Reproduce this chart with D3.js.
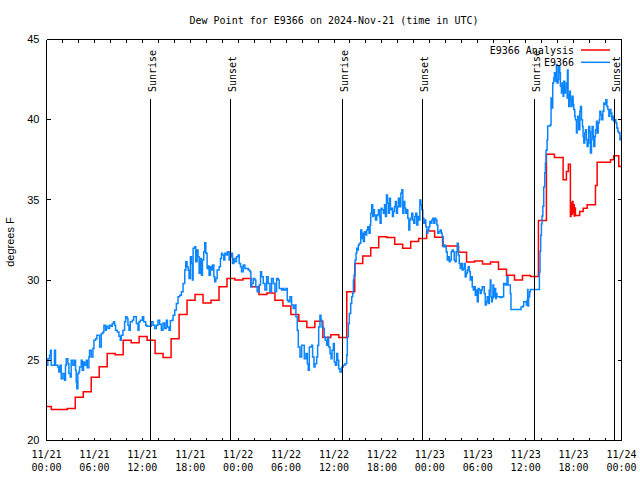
<!DOCTYPE html>
<html><head><meta charset="utf-8">
<script src="https://cdn.jsdelivr.net/npm/d3@7"></script>
<style>body{margin:0;background:#fff}</style>
</head><body><svg id="c" width="640" height="480"></svg>
<script>
// ---------------- data ----------------
const startUTC = Date.UTC(2024, 10, 21, 0, 0);
const spanHours = 72;
const yTicks = [20, 25, 30, 35, 40, 45];
const titleText = "Dew Point for E9366 on 2024-Nov-21 (time in UTC)";
const yLabel = "degrees F";
const seriesNames = ["E9366 Analysis", "E9366"];
const seriesColors = ["#ff0000", "#0a84ff"];

// hourly analysis values (valid from HH-1:36 to HH:36)
const analysisHourly = [22.12,21.94,21.94,22.0,22.69,23.04,23.94,24.6,25.42,25.35,26.25,26.1,26.48,26.25,25.42,25.17,26.35,27.86,28.75,29.1,28.58,28.75,29.58,30.1,30.0,30.1,29.58,29.1,29.2,28.75,28.38,27.86,27.44,27.04,27.44,26.42,26.6,26.42,29.27,31.04,31.5,32.02,32.71,32.65,32.23,31.98,32.4,32.6,33.06,32.67,32.13,32.13,31.73,31.13,31.19,31.0,31.13,30.67,30.31,30.0,30.29,30.23,33.71,37.85,37.65];
// sub-hourly analysis at the end [hour, value]
const analysisTail = [[64.69,36.25],[65.10,36.77],[65.35,37.23],[65.60,33.96],[65.68,34.8],[65.76,34.1],[65.84,34.9],[65.92,34.2],[66.0,34.7],[66.08,34.0],[66.15,34.5],[66.23,34.02],[66.77,34.27],[67.20,34.48],[67.70,34.69],[68.74,35.9],[68.95,37.35],[70.62,37.5],[71.03,37.75],[71.66,37.08],[72.0,37.08]];

// observations [hour since 11/21 00:00, dew point F]
const obsDay1 = [[0.00,24.69],[0.17,25.10],[0.38,25.31],[0.50,25.63],[0.59,24.69],[0.79,24.69],[1.00,25.63],[1.13,24.69],[1.42,24.58],[1.55,24.27],[1.71,24.69],[1.84,23.85],[2.05,24.17],[2.26,23.75],[2.38,24.69],[2.47,25.10],[2.68,24.79],[2.80,24.17],[2.97,23.96],[3.09,25.00],[3.30,24.69],[3.51,25.00],[3.64,24.38],[3.72,23.65],[3.80,23.23],[3.93,24.17],[4.06,24.27],[4.14,24.58],[4.35,25.00],[4.47,24.38],[4.64,24.90],[4.77,24.69],[4.98,25.00],[5.10,24.54],[5.31,25.21],[5.39,25.63],[5.60,25.21],[5.81,25.73],[5.94,26.25],[6.15,26.35],[6.31,26.56],[6.56,26.56],[6.65,25.83],[6.86,26.67],[7.07,26.77],[7.19,27.19],[7.40,26.88],[7.48,27.13],[7.69,26.98],[7.90,27.19],[8.11,27.13],[8.24,27.29],[8.40,27.40],[8.53,27.19],[8.65,26.88],[8.86,26.77],[9.07,26.50],[9.24,26.25],[9.36,26.56],[9.57,26.88],[9.78,27.40],[9.91,27.71],[10.08,27.60],[10.20,27.19],[10.33,26.88],[10.49,27.40],[10.74,27.50],[10.91,27.71],[11.16,27.71],[11.25,27.29],[11.46,26.88],[11.58,27.40],[11.75,27.50],[12.00,27.71],[12.17,27.40],[12.42,27.19],[12.58,27.13],[12.92,27.13],[13.13,27.40],[13.34,27.19],[13.55,26.98],[13.76,27.19],[13.96,27.50],[14.17,27.25],[14.38,26.88],[14.59,27.33],[14.80,26.98],[15.01,27.50],[15.14,27.08],[15.34,26.88],[15.51,27.46],[15.68,27.50],[15.85,27.81],[16.06,28.13],[16.26,28.54],[16.47,28.96],[16.68,29.06],[16.89,29.27],[17.10,29.79],[17.31,30.63],[17.44,31.15],[17.60,30.83],[17.73,30.63],[17.85,30.10],[18.02,31.46],[18.15,31.04],[18.27,30.00],[18.36,31.98],[18.56,32.08],[18.69,31.15],[18.86,31.88],[18.98,31.46],[19.11,30.42],[19.28,31.35],[19.40,30.31],[19.53,31.25],[19.69,31.77],[19.82,32.33],[19.95,31.67],[20.11,30.73],[20.24,30.88],[20.36,30.31],[20.53,30.83],[20.66,30.63],[20.78,30.94],[20.95,30.21],[21.07,29.90],[21.20,30.10],[21.37,30.63],[21.62,30.83],[21.78,31.35],[21.91,31.67],[22.04,31.56],[22.20,31.25],[22.33,31.67],[22.54,31.56],[22.66,31.77],[22.87,31.25],[22.95,31.46],[23.16,31.67],[23.29,31.04],[23.46,31.35],[23.58,31.15],[23.79,31.46]];
const obsDay2 = [[24.00,31.56],[24.13,31.04],[24.29,30.83],[24.42,30.52],[24.63,30.94],[24.84,30.73],[25.05,30.73],[25.26,30.63],[25.47,30.52],[25.59,29.58],[25.71,29.79],[25.88,30.10],[26.09,30.00],[26.21,29.58],[26.38,29.27],[26.63,29.69],[26.80,30.52],[26.93,30.21],[27.14,29.79],[27.35,29.38],[27.56,30.21],[27.76,29.79],[27.97,29.27],[28.18,30.10],[28.39,29.79],[28.60,29.27],[28.81,30.10],[29.02,30.00],[29.14,29.48],[29.31,29.48],[29.44,29.38],[29.56,29.48],[29.73,29.38],[29.98,29.48],[30.15,28.75],[30.27,28.65],[30.48,28.96],[30.69,28.44],[30.89,28.23],[31.10,28.44],[31.23,27.71],[31.40,26.88],[31.53,25.83],[31.74,25.21],[31.95,25.94],[32.15,25.94],[32.28,25.10],[32.49,25.42],[32.66,24.79],[32.78,24.38],[32.91,25.83],[33.07,25.83],[33.20,25.94],[33.32,25.21],[33.49,24.58],[33.62,24.79],[33.83,25.21],[33.95,25.94],[34.08,27.08],[34.24,27.81],[34.37,27.50],[34.50,27.08],[34.67,26.98],[34.79,26.46],[34.91,26.25],[35.08,25.94],[35.21,26.46],[35.33,25.83],[35.50,25.42],[35.63,25.10],[35.75,25.63],[35.92,26.04],[36.04,24.90],[36.17,24.69],[36.34,25.42],[36.46,25.00],[36.59,24.48],[36.75,24.27],[36.96,24.58],[37.17,24.69],[37.38,24.79],[37.59,25.31],[37.67,26.46],[37.80,27.29],[37.92,27.92],[38.09,28.54],[38.22,28.96],[38.34,29.17],[38.43,30.00],[38.51,30.31],[38.64,31.25],[38.76,31.67],[38.85,31.98],[38.93,31.88],[39.05,32.19],[39.18,32.29],[39.35,33.13],[39.47,32.60],[39.60,32.92],[39.68,32.40],[39.81,33.02],[39.93,32.81],[40.10,33.13],[40.23,33.33],[40.39,32.92],[40.52,33.44],[40.60,34.17],[40.73,34.69],[40.85,33.96],[40.94,34.38],[41.06,34.06],[41.19,33.75],[41.35,34.06],[41.56,34.38],[41.69,33.96],[41.77,33.54],[41.90,34.48],[42.02,34.38],[42.19,34.17],[42.32,34.69],[42.44,33.96],[42.57,35.31],[42.69,34.79],[42.82,34.17],[42.94,35.10],[43.07,34.38],[43.19,34.48],[43.32,33.96],[43.44,34.27],[43.57,34.58],[43.69,34.90],[43.82,34.17],[43.95,34.58],[44.07,35.10],[44.20,34.58],[44.37,35.42],[44.49,35.63],[44.62,34.17],[44.74,34.90],[44.87,34.48],[44.99,34.17],[45.12,34.38],[45.24,33.85],[45.37,33.13],[45.49,33.75],[45.62,33.85],[45.74,34.17],[45.87,33.75],[45.99,33.54],[46.12,33.96],[46.24,34.17],[46.37,33.44],[46.50,33.96],[46.62,33.75],[46.75,35.00],[46.87,34.69],[47.00,34.38],[47.12,33.85],[47.25,33.54],[47.37,33.75],[47.50,33.33],[47.63,32.92],[47.75,33.13],[47.88,33.33]];
const obsDay3 = [[48.00,33.65],[48.13,33.54],[48.25,33.75],[48.38,33.85],[48.50,33.54],[48.63,33.85],[48.75,33.75],[48.88,33.44],[49.00,32.92],[49.13,33.02],[49.30,33.13],[49.43,32.92],[49.55,32.71],[49.68,32.08],[49.80,32.19],[49.93,32.08],[50.05,31.77],[50.18,31.25],[50.30,31.46],[50.43,31.15],[50.55,31.25],[50.68,31.77],[50.80,31.88],[50.93,31.77],[51.05,31.25],[51.18,31.15],[51.30,31.77],[51.43,32.29],[51.56,31.56],[51.68,31.04],[51.81,30.73],[51.93,31.04],[52.06,30.63],[52.18,30.73],[52.31,31.04],[52.43,30.21],[52.56,30.42],[52.68,30.63],[52.81,30.83],[52.94,30.52],[53.06,30.00],[53.19,30.21],[53.31,29.58],[53.44,29.38],[53.56,29.58],[53.69,29.06],[53.81,29.38],[53.94,28.65],[54.06,29.48],[54.19,29.38],[54.31,29.17],[54.44,29.38],[54.56,29.58],[54.69,29.58],[54.81,29.17],[54.94,28.44],[55.07,28.65],[55.19,28.96],[55.32,28.54],[55.44,29.38],[55.57,30.00],[55.65,28.96],[55.73,28.65],[55.82,28.85],[55.90,29.69],[55.99,29.38],[56.07,28.96],[56.16,29.48],[56.24,28.85],[56.32,29.17],[56.41,28.96],[56.62,28.96],[56.82,28.92],[57.03,28.96],[57.24,29.79],[57.45,29.69],[57.66,30.21],[57.79,29.69],[57.91,29.69],[58.08,29.17],[58.16,28.17],[59.42,28.33],[59.67,28.38],[59.75,28.65],[59.96,28.65],[60.09,28.44],[60.17,28.75],[60.25,29.42],[60.29,28.38],[60.37,28.96],[60.50,29.27],[60.59,29.42],[61.63,29.42],[61.72,30.50],[61.80,31.80],[61.88,32.80],[61.97,33.50],[62.05,34.00],[62.15,34.60],[62.26,35.80],[62.39,36.70],[62.47,37.30],[62.55,38.10],[62.68,38.75],[62.76,39.60],[63.10,39.69],[63.18,41.35],[63.30,40.73],[63.39,42.29],[63.51,42.60],[63.60,42.92],[63.72,42.40],[63.85,43.44],[63.93,42.29],[64.06,42.50],[64.14,43.33],[64.27,42.92],[64.35,42.08],[64.48,41.67],[64.56,42.29],[64.69,41.46],[64.77,42.40],[64.89,41.67],[64.98,41.98],[65.10,42.29],[65.19,41.35],[65.23,43.10],[65.31,41.56],[65.39,40.83],[65.52,41.77],[65.60,41.25],[65.73,40.83],[65.81,41.46],[65.94,40.94],[66.02,40.63],[66.15,40.21],[66.23,40.00],[66.36,39.17],[66.44,40.00],[66.53,40.21],[66.65,39.38],[66.78,40.52],[66.86,40.83],[66.99,40.00],[67.11,39.58],[67.19,38.96],[67.28,38.54],[67.40,39.17],[67.49,39.38],[67.61,38.75],[67.70,38.33],[67.82,38.54],[67.90,39.58],[68.03,39.27],[68.11,37.92],[68.24,38.75],[68.32,39.58],[68.45,38.96],[68.53,38.33],[68.66,38.96],[68.74,39.38],[68.87,39.90],[68.95,39.17],[69.08,39.79],[69.20,40.00],[69.29,40.52],[69.41,40.31],[69.54,40.00],[69.66,40.52],[69.79,41.04],[69.92,40.94],[70.04,41.25],[70.17,40.83],[70.29,40.63],[70.42,40.21],[70.54,40.63],[70.67,40.42],[70.79,40.00],[70.92,40.21],[71.05,39.90],[71.17,40.00],[71.30,39.79],[71.42,39.48],[71.55,39.27],[71.67,39.17],[71.80,38.75],[71.88,38.85],[72.00,38.75]];

const sunLabels = ["Sunrise", "Sunset", "Sunrise", "Sunset", "Sunrise", "Sunset"];
const sunHours = [12.96, 23.0, 37.02, 46.98, 61.05, 71.02];

// ---------------- drawing ----------------
const mono = "'DejaVu Sans Mono','Liberation Mono',monospace";
const sans = "'Liberation Sans',Arial,sans-serif";
const toDate = h => new Date(startUTC + h * 3600e3);
const svg = d3.select("#c");
svg.append("rect").attr("width", 640).attr("height", 480).attr("fill", "#fff");

const x = d3.scaleUtc().domain([toDate(0), toDate(spanHours)]).range([46.5, 621.5]);
const y = d3.scaleLinear().domain([20, 45]).range([440.5, 39.5]);

const twoHourTicks = d3.utcHour.every(2).range(toDate(0), toDate(spanHours + 0.01));

// clip
svg.append("defs").append("clipPath").attr("id", "plot")
  .append("rect").attr("x", x.range()[0]).attr("y", y.range()[1])
  .attr("width", x.range()[1] - x.range()[0]).attr("height", y.range()[0] - y.range()[1]);

// data lines
const line = d3.line().x(d => x(toDate(d[0]))).y(d => y(d[1])).curve(d3.curveStepAfter);
const analysisPts = analysisHourly.map((v, j) => [j === 0 ? 0 : j - 0.4, v]).concat(analysisTail);
const obsPts = obsDay1.concat(obsDay2, obsDay3);

const gData = svg.append("g").attr("clip-path", "url(#plot)");
gData.append("path").datum(analysisPts).attr("d", line)
  .attr("fill", "none").attr("stroke", seriesColors[0]).attr("stroke-width", 1.5);
gData.append("path").datum(obsPts).attr("d", line)
  .attr("fill", "none").attr("stroke", seriesColors[1]).attr("stroke-width", 1.5);

// axes
const axStyle = g => {
  g.selectAll("path,line").attr("stroke", "#000").attr("shape-rendering", "crispEdges");
};
const gBottom = svg.append("g").attr("transform", `translate(0,${y(20)})`)
  .call(d3.axisBottom(x).tickValues(twoHourTicks).tickSize(-3).tickSizeOuter(0).offset(0)
    .tickFormat(d => d.getUTCHours() % 6 === 0 ? "x" : ""))
  .call(axStyle);
gBottom.selectAll(".tick text").each(function (d) {
  const t = d3.select(this);
  const has = t.text() !== "";
  t.text(null).attr("y", null).attr("dy", null)
    .attr("font-family", mono).attr("font-size", 10).attr("fill", "#000");
  if (has) {
    t.append("tspan").attr("x", 0).attr("y", 17.5).text(d3.utcFormat("%m/%d")(d));
    t.append("tspan").attr("x", 0).attr("y", 30.5).text(d3.utcFormat("%H:%M")(d));
  }
});
svg.append("g").attr("transform", `translate(0,${y(45)})`)
  .call(d3.axisTop(x).tickValues(twoHourTicks).tickSize(-3).tickSizeOuter(0).offset(0).tickFormat(""))
  .call(axStyle);
const gLeft = svg.append("g").attr("transform", `translate(${x.range()[0]},0)`)
  .call(d3.axisLeft(y).tickValues(yTicks).tickSize(-4).tickSizeOuter(0).offset(0).tickPadding(7))
  .call(axStyle);
gLeft.selectAll(".tick text").attr("font-family", sans).attr("font-size", 11).attr("fill", "#000")
  .attr("dy", "0.33em");
svg.append("g").attr("transform", `translate(${x.range()[1]},0)`)
  .call(d3.axisRight(y).tickValues(yTicks).tickSize(-4).tickSizeOuter(0).offset(0).tickFormat(""))
  .call(axStyle);

// sunrise / sunset markers
const gSun = svg.append("g");
sunHours.forEach((h, i) => {
  const px = Math.round(x(toDate(h))) + 0.5;
  gSun.append("line").attr("x1", px).attr("x2", px).attr("y1", 99).attr("y2", y(20))
    .attr("stroke", "#000").attr("shape-rendering", "crispEdges");
  gSun.append("text").attr("transform", `translate(${px + 5},92) rotate(-90)`)
    .attr("font-family", mono).attr("font-size", 10).attr("fill", "#000")
    .text(sunLabels[i]);
});

// title and y label
svg.append("text").attr("x", 334).attr("y", 24).attr("text-anchor", "middle")
  .attr("font-family", mono).attr("font-size", 10).text(titleText);
svg.append("text").attr("transform", "translate(13.5,242) rotate(-90)").attr("text-anchor", "middle")
  .attr("font-family", sans).attr("font-size", 11).text(yLabel);

// legend
const gLeg = svg.append("g");
seriesNames.forEach((name, i) => {
  const ly = 50 + i * 12.3;
  gLeg.append("text").attr("x", 574).attr("y", ly + 4).attr("text-anchor", "end")
    .attr("font-family", mono).attr("font-size", 10).text(name);
  gLeg.append("line").attr("x1", 581).attr("x2", 610).attr("y1", ly).attr("y2", ly)
    .attr("stroke", seriesColors[i]).attr("stroke-width", 1.5);
});
</script></body></html>
